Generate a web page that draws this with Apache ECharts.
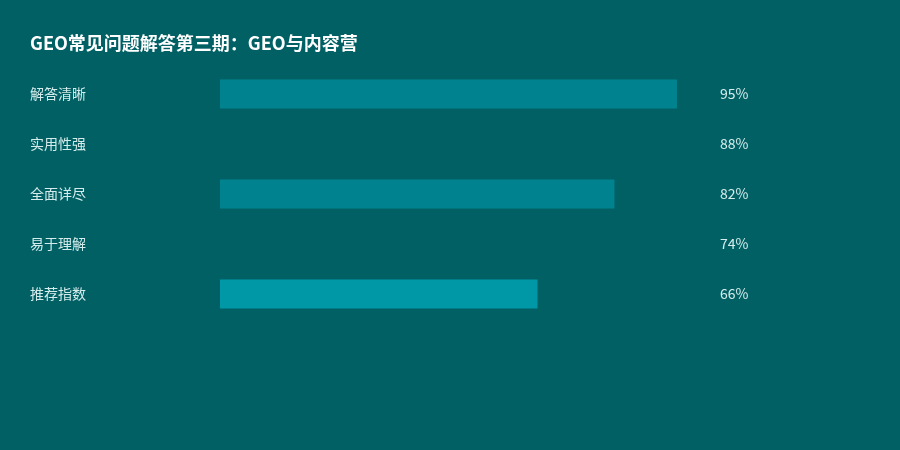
<!DOCTYPE html>
<html>
<head>
<meta charset="utf-8">
<script src="https://cdn.jsdelivr.net/npm/echarts@6/dist/echarts.min.js"></script>
<style>
  html, body { margin: 0; padding: 0; background: #006064; }
  #chart { width: 900px; height: 450px; }
</style>
</head>
<body>
<div id="chart"></div>
<script>
const titleText = 'GEO常见问题解答第三期：GEO与内容营'
const categories = ['解答清晰', '实用性强', '全面详尽', '易于理解', '推荐指数']
const scores = [95, 88, 82, 74, 66]
const barColors = ['#00838F', '#006064', '#00838F', '#006064', '#0097A7']
const scoreLabels = scores.map(v => v + '%')

var ele = document.getElementById('chart')
var myChart = echarts.init(ele, null, { renderer: 'canvas' })
var fontFamily = '"Noto Sans CJK SC", "Noto Sans", sans-serif'

var option = {
  backgroundColor: '#006064',
  animation: false,
  title: {
    text: titleText,
    left: 25,
    top: 29,
    textStyle: { color: '#ffffff', fontSize: 18, fontWeight: 'bold', fontFamily: fontFamily }
  },
  grid: { left: 220, right: 199, top: 69, height: 250 },
  xAxis: {
    type: 'value',
    min: 0,
    max: 100,
    show: false
  },
  yAxis: [
    {
      type: 'category',
      inverse: true,
      data: categories,
      axisLine: { show: false },
      axisTick: { show: false },
      axisLabel: {
        align: 'left',
        margin: 190,
        color: '#d4ecec',
        fontSize: 14,
        fontFamily: fontFamily
      }
    },
    {
      type: 'category',
      inverse: true,
      position: 'right',
      data: scoreLabels,
      axisLine: { show: false },
      axisTick: { show: false },
      axisLabel: {
        align: 'left',
        margin: 19,
        color: '#d4ecec',
        fontSize: 14,
        fontFamily: fontFamily
      }
    }
  ],
  series: [
    {
      type: 'bar',
      barWidth: 29,
      data: scores.map((v, i) => ({ value: v, itemStyle: { color: barColors[i] } }))
    }
  ]
}

myChart.setOption(option)
</script>
</body>
</html>
